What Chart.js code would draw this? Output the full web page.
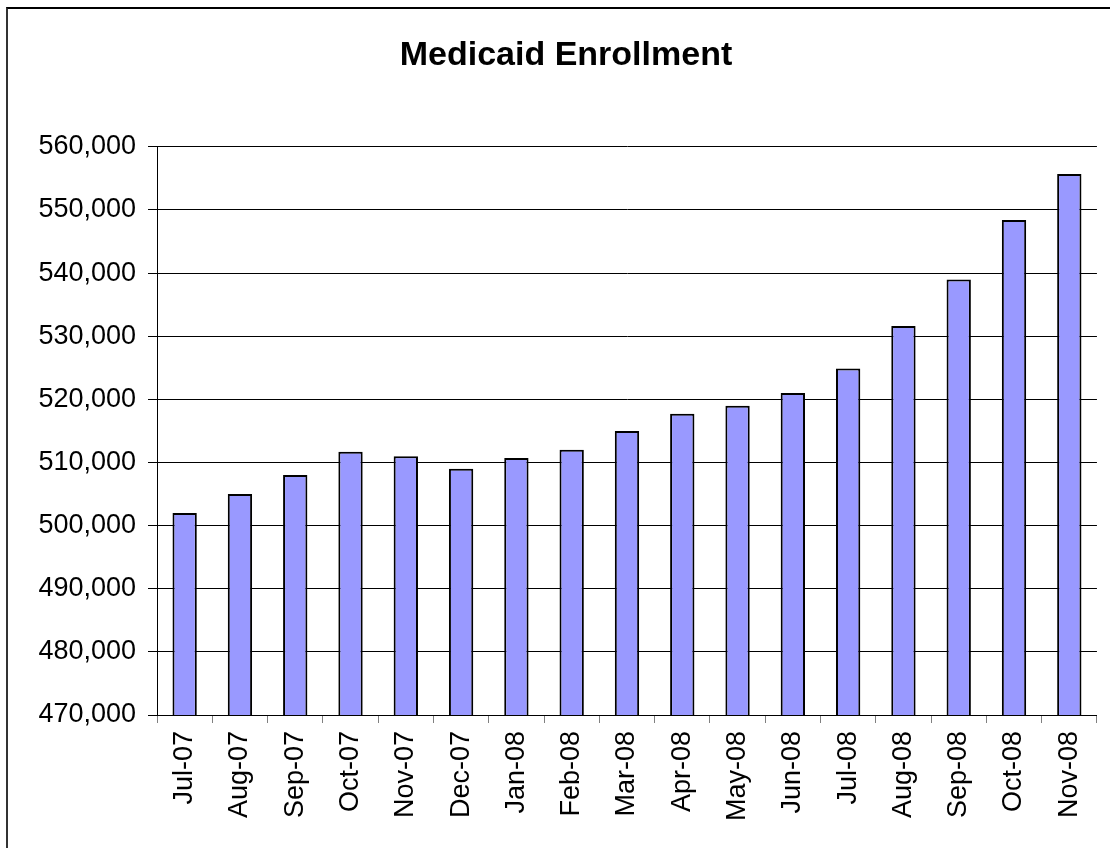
<!DOCTYPE html>
<html>
<head>
<meta charset="utf-8">
<title>Medicaid Enrollment</title>
<script src="https://cdn.jsdelivr.net/npm/chart.js@4"></script>
<style>
  body { margin: 0; background: #fff; overflow: hidden; }
  #wrap { position: absolute; left: 0; top: 0; width: 1110px; height: 848px; }
  #frame { position: absolute; left: 6px; top: 7px; width: 1200px; height: 1000px;
           border-left: 2px solid #333; border-top: 2px solid #000; pointer-events: none; }
</style>
</head>
<body>
<div id="wrap"><canvas id="canvas1"></canvas></div>
<div id="frame"></div>
<script>
// months on the x axis
var months = ["Jul-07", "Aug-07", "Sep-07", "Oct-07", "Nov-07", "Dec-07", "Jan-08", "Feb-08", "Mar-08",
              "Apr-08", "May-08", "Jun-08", "Jul-08", "Aug-08", "Sep-08", "Oct-08", "Nov-08"];
// enrollment
var enrollment = [502000, 505000, 508000, 511700, 511000, 509000, 510700, 512000, 515000,
                  517700, 519000, 521000, 524900, 531600, 539000, 548400, 555700];
var yMin = 470000, yMax = 560000, yStep = 10000;

var font = "'Liberation Sans', Arial, sans-serif";

new Chart(document.getElementById("canvas1"), {
    type: 'bar',
    data: {
        labels: months,
        datasets: [{
            data: enrollment,
            backgroundColor: "#9999FF",
            borderColor: "#000",
            borderWidth: 2,
            barPercentage: 0.44,
            categoryPercentage: 1
        }]
    },
    options: {
        responsive: true,
        maintainAspectRatio: false,
        animation: false,
        layout: { padding: { left: 32, right: 10, top: 0, bottom: 0 } },
        plugins: {
            legend: { display: false },
            tooltip: { enabled: false },
            title: {
                display: true,
                text: "Medicaid Enrollment",
                color: "#000",
                font: { family: font, size: 34, weight: 'bold' },
                padding: { top: 35, bottom: 71 }
            }
        },
        scales: {
            x: {
                grid: { display: true, drawOnChartArea: false, drawTicks: true, tickLength: 8, color: "#808080", offset: true },
                border: { display: true, color: "#000", width: 1 },
                ticks: { color: "#000", font: { family: font, size: 27 }, minRotation: 90, maxRotation: 90, padding: 8, autoSkip: false },
                afterFit: function (scale) { scale.height = 133; }
            },
            y: {
                min: yMin,
                max: yMax,
                grid: { color: "#000", lineWidth: 1, tickLength: 9 },
                border: { display: true, color: "#000", width: 1 },
                ticks: {
                    stepSize: yStep,
                    color: "#000",
                    padding: 12,
                    font: { family: font, size: 27 },
                    callback: function (v) { return v.toLocaleString('en-US'); }
                },
                afterFit: function (scale) { scale.width = 125; }
            }
        }
    }
});
</script>
</body>
</html>
